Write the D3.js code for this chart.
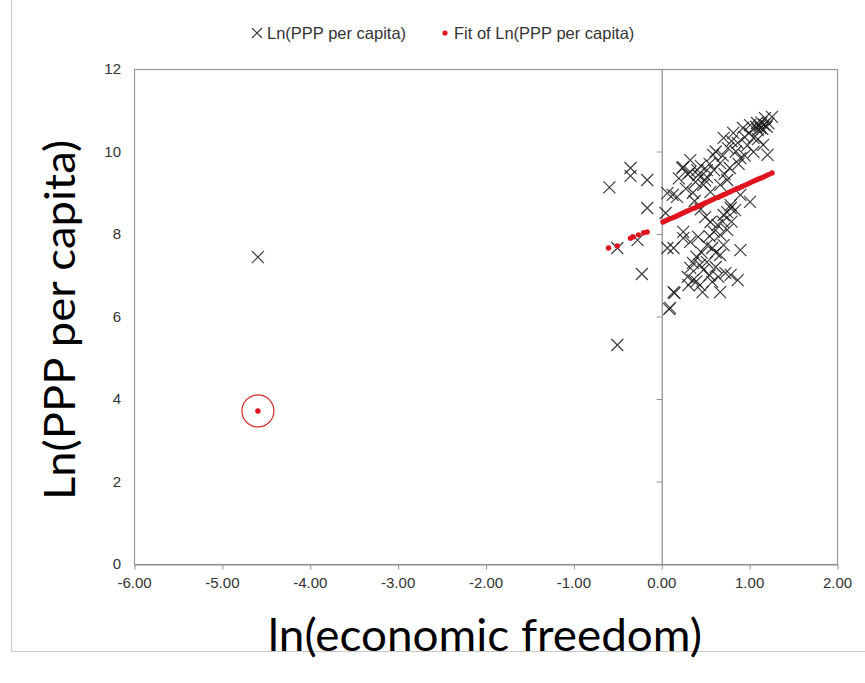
<!DOCTYPE html>
<html>
<head>
<meta charset="utf-8">
<script src="https://cdn.jsdelivr.net/npm/d3@7"></script>
<style>
  html, body { margin: 0; padding: 0; background: #fff; }
  svg { display: block; }
</style>
</head>
<body>
<script>
// ---- data ----
const legendLabels = ["Ln(PPP per capita)", "Fit of Ln(PPP per capita)"];
const xTicks = [-6, -5, -4, -3, -2, -1, 0, 1, 2];
const yTicks = [0, 2, 4, 6, 8, 10, 12];
const xTitle = "ln(economic freedom)";
const yTitle = "Ln(PPP per capita)";

// observed: ln(economic freedom)
const obsX = [
  -4.59, -0.59, -0.35, -0.35, -0.16, -0.16, -0.50, -0.27, -0.22, -0.50, 0.09, 0.15,
  0.07, 0.13, 0.18, 0.24, 0.33, 0.25, 0.42, 0.41, 0.52, 0.59, 0.67, 0.71, 0.76, 0.82,
  0.87, 0.90, 0.93, 1.01, 1.05, 1.09, 1.13, 1.18, 1.26, 1.16, 1.21, 1.05, 0.90, 1.01,
  0.67, 0.75, 0.56, 0.48, 0.39, 0.33, 0.79, 0.75,
  1.12, 1.15, 1.17, 1.10, 1.20, 1.14, 1.08, 1.22,
  0.62, 0.70, 0.80, 0.85, 0.95, 0.98, 1.00, 0.88, 0.78, 0.60, 0.55, 0.95, 1.10, 0.72, 0.50,
  0.05, 0.07, 0.14, 0.25, 0.33, 0.42, 0.50, 0.56, 0.64, 0.71, 0.79, 0.84, 0.67, 0.71,
  0.67, 0.52, 0.58, 0.90, 0.36, 0.44, 0.52, 0.48, 0.33, 0.30, 0.36, 0.31, 0.44, 0.47,
  0.58, 0.65, 0.73, 0.79, 0.87, 0.67, 0.14, 0.10,
  0.60, 0.75, 0.55, 0.46, 0.40, 0.62, 0.55, 0.40, 0.62, 0.70, 0.45, 0.38, 0.80, 0.25,
  0.20, 0.30, 0.45, 0.52, 0.28, 0.36
];
// observed: Ln(PPP per capita)
const obsY = [
  7.44, 9.13, 9.60, 9.41, 9.31, 8.63, 7.66, 7.85, 7.03, 5.31, 6.18, 6.57,
  8.99, 8.95, 8.90, 9.60, 9.79, 9.62, 9.43, 9.55, 9.38, 9.92, 9.72, 10.33, 10.08, 10.45,
  10.21, 9.84, 10.57, 10.64, 10.33, 10.69, 10.57, 10.81, 10.84, 10.16, 9.92, 9.99, 8.95, 8.78,
  9.19, 9.31, 9.02, 9.19, 9.26, 9.50, 8.70, 8.53,
  10.62, 10.55, 10.65, 10.52, 10.60, 10.70, 10.60, 10.68,
  10.00, 9.90, 10.25, 10.00, 10.35, 10.15, 10.45, 9.70, 9.60, 9.55, 9.70, 9.90, 10.30, 9.45, 9.30,
  8.51, 7.66, 7.66, 7.90, 7.81, 7.93, 8.41, 8.29, 8.22, 8.46, 8.63, 8.58, 7.98, 7.73,
  7.49, 7.73, 7.66, 7.61, 7.30, 7.25, 7.32, 7.13, 7.18, 6.96, 6.88, 6.76, 6.76, 6.59,
  6.84, 6.96, 7.05, 7.01, 6.88, 6.59, 6.59, 6.21,
  8.05, 8.10, 7.95, 7.55, 7.45, 7.20, 7.00, 6.85, 7.55, 8.30, 8.60, 8.80, 8.30, 8.05,
  9.35, 9.45, 9.65, 9.55, 9.10, 9.00
];

// fitted values
const fitX = [
  -4.59, -0.60, -0.50, -0.35, -0.32, -0.26, -0.20, -0.16,
  0.02, 0.05, 0.08, 0.11, 0.14, 0.17, 0.20, 0.23, 0.26, 0.29, 0.32, 0.35, 0.38, 0.41,
  0.44, 0.47, 0.50, 0.53, 0.56, 0.59, 0.62, 0.65, 0.68, 0.71, 0.74, 0.77, 0.80, 0.83,
  0.86, 0.89, 0.92, 0.95, 0.98, 1.01, 1.04, 1.07, 1.10, 1.13, 1.16, 1.19, 1.22, 1.26
];
const fitY = [
  3.71, 7.66, 7.71, 7.90, 7.93, 7.98, 8.03, 8.05,
  8.29, 8.32, 8.35, 8.38, 8.40, 8.43, 8.46, 8.49, 8.52, 8.55, 8.58, 8.61, 8.63, 8.66,
  8.69, 8.72, 8.75, 8.78, 8.81, 8.84, 8.87, 8.89, 8.92, 8.95, 8.98, 9.01, 9.04, 9.07,
  9.10, 9.12, 9.15, 9.18, 9.21, 9.24, 9.27, 9.30, 9.33, 9.35, 9.38, 9.41, 9.44, 9.48
];
const circledFit = [-4.59, 3.71];

// ---- drawing ----
const W = 865, H = 683;
const plot = { left: 134, right: 837, top: 69, bottom: 564 };

const svg = d3.select("body").append("svg").attr("width", W).attr("height", H);
svg.append("rect").attr("width", W).attr("height", H).attr("fill", "#fff");

// outer chart border
svg.append("rect").attr("x", 11.5).attr("y", -2).attr("width", W + 10).attr("height", 653.5)
  .attr("fill", "none").attr("stroke", "#c8c8c8").attr("stroke-width", 1);

const x = d3.scaleLinear().domain([-6, 2]).range([plot.left, plot.right]);
const y = d3.scaleLinear().domain([0, 12]).range([plot.bottom, plot.top]);

// plot area border
svg.append("rect")
  .attr("x", plot.left + 0.5).attr("y", plot.top + 0.5)
  .attr("width", plot.right - plot.left).attr("height", plot.bottom - plot.top)
  .attr("fill", "none").attr("stroke", "#9a9a9a").attr("stroke-width", 1.2);

// x axis (at y = 0)
const fmt = d3.format(".2f");
const xAxis = d3.axisBottom(x).tickValues(xTicks).tickSize(5).tickSizeOuter(0)
  .tickFormat(d => fmt(d).replace("\u2212", "-"));
const gx = svg.append("g").attr("transform", `translate(0,${y(0) + 0.5})`).call(xAxis);
gx.select(".domain").attr("stroke", "#8c8c8c").attr("stroke-width", 1.2);
gx.selectAll(".tick line").attr("stroke", "#8c8c8c").attr("transform", "translate(0.5,0)");
gx.selectAll(".tick text").attr("font-family", "Liberation Sans, Arial, sans-serif")
  .attr("font-size", 15).attr("fill", "#333").attr("dy", "0.9em").attr("y", 10);

// y axis line at x = 0 with ticks, labels at the left edge
const yAxis = d3.axisLeft(y).tickValues(yTicks).tickSize(5).tickSizeOuter(0).tickFormat("");
const gy = svg.append("g").attr("transform", `translate(${x(0) + 0.5},0)`).call(yAxis);
gy.select(".domain").attr("stroke", "#8c8c8c").attr("stroke-width", 1.2);
gy.selectAll(".tick line").attr("stroke", "#8c8c8c");

svg.append("g").selectAll("text").data(yTicks).join("text")
  .attr("x", 121).attr("y", d => y(d)).attr("dy", "0.36em")
  .attr("text-anchor", "end")
  .attr("font-family", "Liberation Sans, Arial, sans-serif").attr("font-size", 15)
  .attr("fill", "#333").text(d => d);

// observed points (x marks)
const obs = obsX.map((v, i) => [v, obsY[i]]);
const s = 6;
svg.append("g").selectAll("path").data(obs).join("path")
  .attr("d", d => {
    const cx = x(d[0]), cy = y(d[1]);
    return `M${cx - s},${cy - s}L${cx + s},${cy + s}M${cx - s},${cy + s}L${cx + s},${cy - s}`;
  })
  .attr("stroke", "#1a1a1a").attr("stroke-width", 1.2).attr("fill", "none").attr("opacity", 0.85);

// fitted points
const fit = fitX.map((v, i) => [v, fitY[i]]);
svg.append("g").selectAll("circle").data(fit).join("circle")
  .attr("cx", d => x(d[0])).attr("cy", d => y(d[1])).attr("r", 2.7)
  .attr("fill", "#e0141e");

// circle highlighting the outlier fit point
svg.append("circle").attr("cx", x(circledFit[0])).attr("cy", y(circledFit[1])).attr("r", 16)
  .attr("fill", "none").attr("stroke", "#d42a2a").attr("stroke-width", 1.2);

// legend
const lg = svg.append("g").attr("font-family", "Liberation Sans, Arial, sans-serif")
  .attr("font-size", 16.5).attr("fill", "#333");
const lx = 257, ly = 33;
lg.append("path")
  .attr("d", `M${lx - 5},${ly - 5}L${lx + 5},${ly + 5}M${lx - 5},${ly + 5}L${lx + 5},${ly - 5}`)
  .attr("stroke", "#333").attr("stroke-width", 1.1);
lg.append("text").attr("x", 267).attr("y", ly).attr("dy", "0.35em").text(legendLabels[0]);
lg.append("circle").attr("cx", 445).attr("cy", ly).attr("r", 2.6).attr("fill", "#e0141e");
lg.append("text").attr("x", 454).attr("y", ly).attr("dy", "0.35em").text(legendLabels[1]);

// axis titles
svg.append("text").attr("x", 485).attr("y", 651).attr("text-anchor", "middle")
  .attr("font-family", "Lato, Liberation Sans, sans-serif").attr("font-size", 44)
  .attr("textLength", 434).attr("lengthAdjust", "spacingAndGlyphs")
  .attr("fill", "#000").text(xTitle);

svg.append("text").attr("transform", "translate(75,320) rotate(-90)")
  .attr("text-anchor", "middle")
  .attr("font-family", "Lato, Liberation Sans, sans-serif").attr("font-size", 43)
  .attr("textLength", 360).attr("lengthAdjust", "spacingAndGlyphs")
  .attr("fill", "#000").text(yTitle);
</script>
</body>
</html>
